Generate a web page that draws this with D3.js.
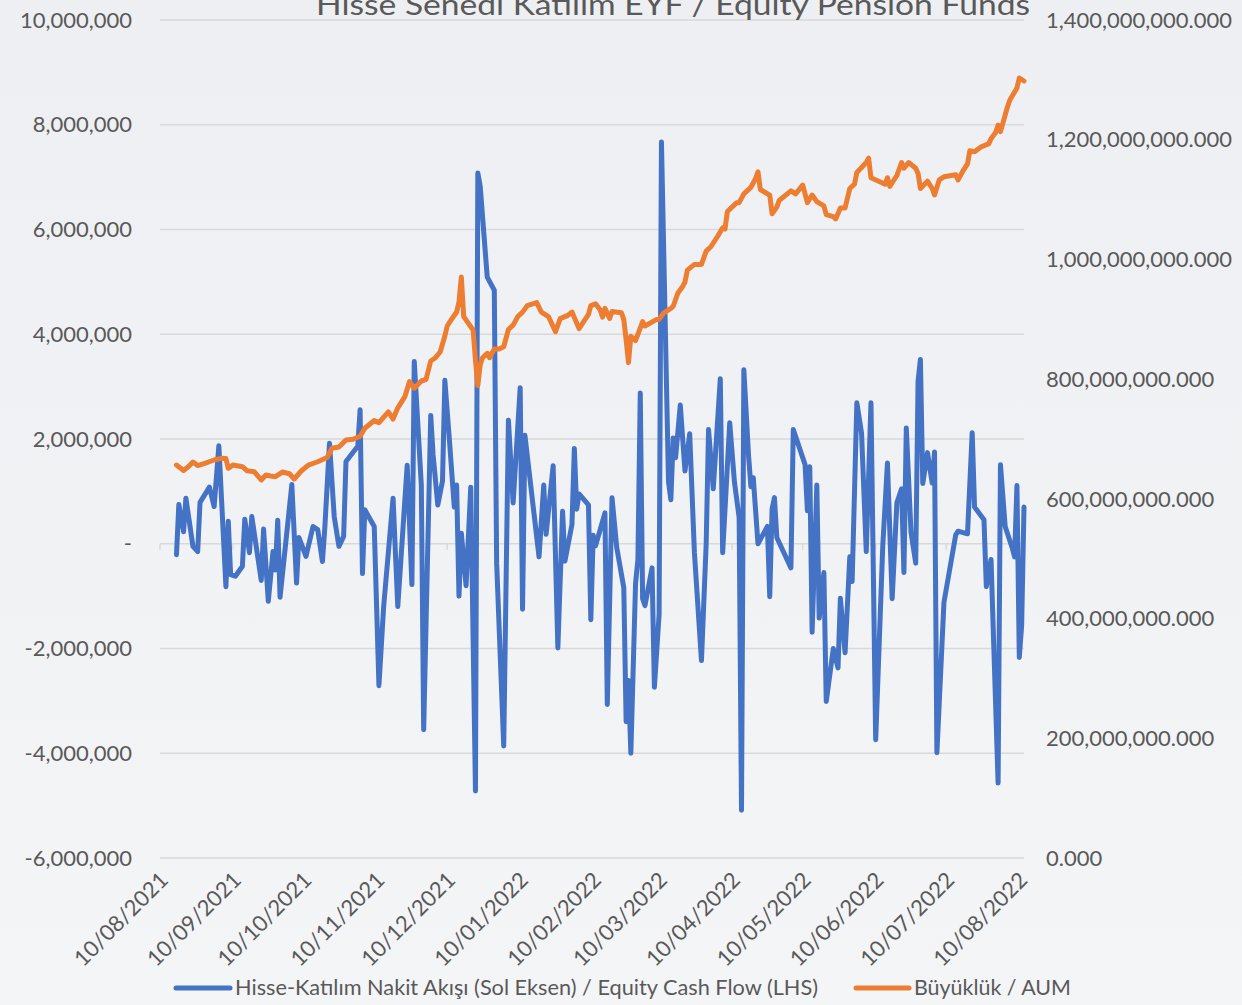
<!DOCTYPE html>
<meta charset="utf-8">
<head>
  <title>Hisse Senedi Katılım EYF / Equity Pension Funds</title>
</head>

<style>

body {
  margin: 0;
  background: #f1f2f4;
}

svg {
  display: block;
  font-family: Lato, "Open Sans", sans-serif;
}

.grid line {
  stroke: #d9d9d9;
  stroke-width: 1.5px;
}

.axis text {
  fill: #595959;
  font-size: 22px;
}

.flow {
  fill: none;
  stroke: #4472c4;
  stroke-width: 5px;
  stroke-linejoin: round;
  stroke-linecap: round;
}

.aum {
  fill: none;
  stroke: #ed7d31;
  stroke-width: 5px;
  stroke-linejoin: round;
  stroke-linecap: round;
}

.legend text {
  fill: #595959;
  font-size: 21px;
}

</style>

<body>

<svg width="1242" height="1005">
  <defs>
    <linearGradient id="bg" x1="0" y1="0" x2="0" y2="1">
      <stop offset="0" stop-color="#edeff2"></stop>
      <stop offset="1" stop-color="#f4f5f7"></stop>
    </linearGradient>
  </defs>
  <rect width="1242" height="1005" fill="url(#bg)"></rect>
  <g class="grid"></g>
  <g class="axis left"></g>
  <g class="axis right"></g>
  <g class="axis bottom"></g>
  <g class="series"></g>
  <g class="legend"></g>
</svg>

<script src="https://cdnjs.cloudflare.com/ajax/libs/d3/7.8.5/d3.min.js"></script>

<script>
var title = "Hisse Senedi Katılım EYF / Equity Pension Funds";
var flowName = "Hisse-Katılım Nakit Akışı (Sol Eksen) / Equity Cash Flow (LHS)";
var aumName = "Büyüklük / AUM";

var startDate = "2021-08-10";
var endDate = "2022-08-12";
var tickDates = ["2021-08-10", "2021-09-10", "2021-10-10", "2021-11-10", "2021-12-10",
  "2022-01-10", "2022-02-10", "2022-03-10", "2022-04-10", "2022-05-10",
  "2022-06-10", "2022-07-10", "2022-08-10"];
var leftTicks = [-6e6, -4e6, -2e6, 0, 2e6, 4e6, 6e6, 8e6, 10e6];
var rightTicks = [0, 2e8, 4e8, 6e8, 8e8, 10e8, 12e8, 14e8];

// [days after 10/08/2021, cash flow in TRY million]
var cashFlow = [[7,-0.21],[8,0.75],[10,0.23],[11,0.87],[14,-0.05],[16,-0.15],[17,0.79],[21,1.08],
  [23,0.71],[25,1.87],[28,-0.82],[29,0.43],[30,-0.59],[32,-0.62],[35,-0.43],[36,0.47],[38,-0.17],
  [39,0.52],[43,-0.70],[44,0.28],[46,-1.10],[48,-0.15],[49,-0.50],[50,0.45],[51,-1.02],[56,1.13],
  [58,-0.75],[59,0.12],[62,-0.24],[65,0.33],[67,0.27],[69,-0.34],[70,0.30],[72,1.92],[74,0.52],
  [76,-0.05],[78,0.14],[79,1.57],[84,1.86],[85,2.56],[86,-0.57],[87,0.65],[91,0.33],[93,-2.71],
  [95,-1.20],[99,0.87],[101,-1.20],[105,1.50],[107,-0.78],[108,3.48],[111,1.12],[112,-3.55],
  [115,2.45],[116,1.70],[118,0.74],[120,1.20],[121,3.12],[123,1.94],[125,0.70],[126,1.12],
  [127,-1.00],[128,0.20],[130,-0.80],[132,1.08],[134,-4.72],[135,7.08],[136,6.83],[139,5.09],
  [142,4.84],[143,-0.37],[146,-3.86],[148,2.36],[150,0.78],[153,2.98],[154,-1.25],[155,2.07],
  [161,-0.25],[163,1.12],[164,0.18],[167,1.49],[169,-1.99],[171,0.62],[172,-0.33],[175,0.37],
  [176,1.82],[177,0.66],[178,0.95],[182,0.74],[183,-1.45],[184,0.16],[185,-0.04],[189,0.59],
  [190,-3.07],[192,0.88],[194,-0.07],[197,-0.84],[198,-3.40],[199,-2.61],[200,-4.00],[202,-0.76],
  [203,-0.30],[204,2.88],[205,-1.05],[206,-1.18],[209,-0.46],[210,-2.74],[212,-1.35],[213,7.67],
  [216,1.18],[217,0.84],[218,2.02],[219,1.64],[221,2.65],[223,1.39],[225,2.10],[227,-0.17],
  [230,-2.23],[232,0.00],[233,2.18],[235,1.05],[238,3.15],[239,-0.17],[242,2.31],[244,1.18],
  [246,0.50],[247,-5.09],[248,3.32],[250,1.68],[251,1.09],[252,1.26],[254,0.00],[258,0.33],
  [259,-1.01],[260,0.67],[261,0.88],[262,0.12],[268,-0.46],[269,2.18],[274,1.51],[275,0.63],
  [276,1.47],[277,-1.69],[279,1.12],[280,-1.42],[282,-0.55],[283,-3.01],[286,-2.00],[288,-2.37],
  [289,-1.04],[291,-2.08],[293,-0.25],[294,-0.72],[296,2.69],[298,2.11],[300,-0.15],[302,2.69],
  [304,-3.74],[307,-0.05],[309,1.54],[311,-1.05],[313,0.78],[315,1.05],[316,-0.55],[317,2.21],
  [319,0.22],[321,-0.37],[322,3.10],[323,3.52],[324,1.15],[326,1.74],[328,1.16],[329,1.75],
  [330,-3.99],[333,-1.12],[338,0.17],[339,0.24],[343,0.19],[345,2.12],[346,0.70],[350,0.46],
  [351,-0.82],[353,-0.30],[356,-4.57],[357,1.51],[359,0.33],[362,-0.08],[363,-0.25],[364,1.11],
  [365,-2.17],[366,-1.56],[367,0.70]];

// [days after 10/08/2021, assets under management in TRY million]
var aum = [[7,656.5],[10,647.4],[12,653.7],[14,661.6],[16,655.7],[19,659.4],[23,664.9],[26,667.7],
  [28,667.4],[29,651.0],[31,656.5],[35,653.7],[37,647.0],[40,645.4],[43,631.5],[45,639.8],
  [47,638.2],[49,637.0],[52,644.8],[55,642.0],[57,633.2],[60,646.5],[63,656.5],[67,662.0],
  [71,669.1],[73,684.5],[76,686.6],[79,698.3],[82,699.5],[85,704.5],[87,717.9],[91,730.9],
  [93,727.2],[97,745.3],[99,733.4],[101,752.1],[104,770.7],[106,795.9],[108,784.9],[111,796.9],
  [113,799.4],[115,830.3],[117,835.8],[119,845.3],[121,872.1],[122,888.8],[124,901.0],[126,912.1],
  [127,928.9],[128,970.6],[129,904.5],[133,882.1],[134,832.0],[135,789.4],[136,823.6],[137,835.8],
  [139,843.2],[140,835.8],[142,850.3],[144,850.3],[146,854.0],[148,882.9],[150,890.3],[152,904.6],
  [154,912.0],[156,922.8],[160,927.9],[162,912.0],[165,904.6],[168,879.4],[170,901.1],[173,906.1],
  [175,912.0],[178,884.4],[182,908.3],[183,922.8],[185,925.8],[187,915.5],[188,903.5],[189,918.2],
  [191,901.3],[192,913.0],[196,910.8],[197,899.8],[198,865.4],[199,827.6],[200,871.7],[202,864.4],
  [205,896.1],[206,888.8],[211,899.8],[212,899.8],[214,910.8],[217,918.2],[218,921.8],[220,943.9],
  [222,954.9],[223,962.3],[224,982.1],[227,991.7],[230,991.7],[232,1013.9],[234,1021.2],[237,1039.6],
  [239,1052.8],[240,1050.6],[241,1080.0],[245,1094.8],[246,1094.8],[248,1109.5],[251,1120.5],
  [253,1135.2],[254,1146.2],[255,1116.8],[259,1107.3],[260,1076.4],[262,1087.4],[263,1098.4],
  [268,1114.6],[270,1109.5],[273,1124.2],[275,1094.8],[277,1107.6],[279,1096.6],[282,1089.4],
  [283,1074.9],[286,1071.4],[287,1067.7],[289,1085.9],[291,1085.9],[293,1118.5],[295,1125.7],
  [296,1145.2],[300,1161.9],[301,1169.1],[302,1136.5],[306,1129.3],[308,1125.7],[309,1136.5],
  [310,1122.0],[313,1140.2],[315,1161.9],[316,1152.4],[318,1161.9],[321,1152.4],[322,1143.7],
  [323,1118.5],[326,1130.7],[328,1118.5],[329,1107.6],[331,1132.8],[333,1138.0],[338,1141.5],
  [339,1132.8],[341,1147.4],[343,1159.7],[344,1181.5],[346,1180.0],[349,1188.6],[352,1193.0],
  [353,1201.7],[355,1212.5],[356,1224.5],[357,1213.4],[360,1255.1],[361,1266.3],[363,1279.7],
  [364,1286.4],[365,1303.1],[367,1298.1]];

var parse = d3.timeParse("%Y-%m-%d");
var start = parse(startDate);
function dayDate(n) { return d3.timeDay.offset(start, n); }

var plotLeft = 160, plotRight = 1024, plotTop = 20, plotBottom = 858;

var x = d3.scaleTime()
  .domain([start, parse(endDate)])
  .range([plotLeft, plotRight]);

var yLeft = d3.scaleLinear()
  .domain([-6e6, 10e6])
  .range([plotBottom, plotTop]);

var yRight = d3.scaleLinear()
  .domain([0, 14e8])
  .range([plotBottom, plotTop]);

var svg = d3.select("svg");

// Gridlines
svg.select("g.grid")
  .selectAll("line.h")
  .data(leftTicks)
  .enter()
  .append("line")
  .classed("h", true)
  .attr("x1", plotLeft)
  .attr("x2", plotRight)
  .attr("y1", function(d) { return yLeft(d); })
  .attr("y2", function(d) { return yLeft(d); });

svg.select("g.grid")
  .selectAll("line.tick")
  .data(tickDates)
  .enter()
  .append("line")
  .classed("tick", true)
  .attr("x1", function(d) { return x(parse(d)); })
  .attr("x2", function(d) { return x(parse(d)); })
  .attr("y1", yLeft(0))
  .attr("y2", yLeft(0) + 6);

// title sits above the plot and is cut off by the top edge
svg.append("text")
  .attr("x", 673)
  .attr("y", 15)
  .attr("text-anchor", "middle")
  .attr("textLength", 714)
  .attr("lengthAdjust", "spacingAndGlyphs")
  .style("font-size", "29px")
  .style("fill", "#595959")
  .text(title);

function leftFormat(v) {
  if (v === 0) return "-";
  return (v < 0 ? "-" : "") + d3.format(",")(Math.abs(v));
}

svg.select("g.axis.left")
  .selectAll("text")
  .data(leftTicks)
  .enter()
  .append("text")
  .attr("x", 132)
  .attr("y", function(d) { return yLeft(d); })
  .attr("dy", "0.35em")
  .attr("text-anchor", "end")
  .text(leftFormat);

svg.select("g.axis.right")
  .selectAll("text")
  .data(rightTicks)
  .enter()
  .append("text")
  .attr("x", 1046)
  .attr("y", function(d) { return yRight(d); })
  .attr("dy", "0.35em")
  .text(d3.format(",.3f"));

var fmtDate = d3.timeFormat("%d/%m/%Y");
svg.select("g.axis.bottom")
  .selectAll("text")
  .data(tickDates)
  .enter()
  .append("text")
  .attr("transform", function(d) { return "translate(" + (x(parse(d)) + 4) + ",876) rotate(-45)"; })
  .attr("dy", "0.35em")
  .attr("text-anchor", "end")
  .text(function(d) { return fmtDate(parse(d)); });

// Lines
var flowLine = d3.line()
  .x(function(d) { return x(dayDate(d[0])); })
  .y(function(d) { return yLeft(d[1] * 1e6); });

var aumLine = d3.line()
  .x(function(d) { return x(dayDate(d[0])); })
  .y(function(d) { return yRight(d[1] * 1e6); });

svg.select("g.series")
  .append("path")
  .classed("flow", true)
  .attr("d", flowLine(cashFlow));

svg.select("g.series")
  .append("path")
  .classed("aum", true)
  .attr("d", aumLine(aum));

// Legend
var legend = svg.select("g.legend");
var items = [
  {name: flowName, color: "#4472c4", x0: 176, x1: 230, tx: 235, tl: 583},
  {name: aumName, color: "#ed7d31", x0: 856, x1: 909, tx: 914, tl: 157}
];
items.forEach(function(it) {
  legend.append("line")
    .attr("x1", it.x0).attr("x2", it.x1)
    .attr("y1", 988).attr("y2", 988)
    .style("stroke", it.color)
    .style("stroke-width", 5)
    .style("stroke-linecap", "round");
  legend.append("text")
    .attr("x", it.tx)
    .attr("y", 988)
    .attr("dy", "0.35em")
    .attr("textLength", it.tl)
    .attr("lengthAdjust", "spacingAndGlyphs")
    .text(it.name);
});
</script>
</body>
